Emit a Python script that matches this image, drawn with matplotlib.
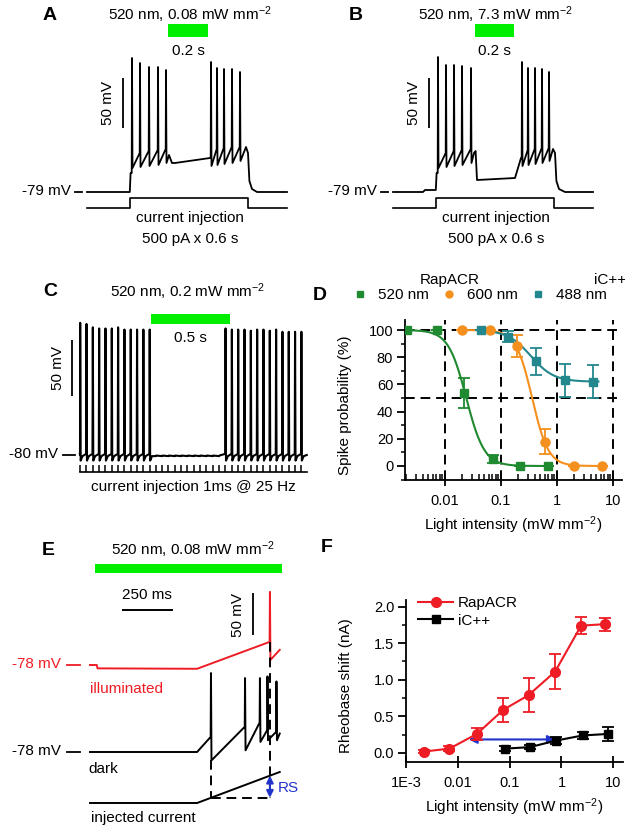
import numpy as np
import matplotlib
matplotlib.use('Agg')
import matplotlib.pyplot as plt
from matplotlib.lines import Line2D
from matplotlib.ticker import MultipleLocator, LogLocator, FixedLocator, FixedFormatter, NullFormatter

plt.rcParams['font.family'] = ['Liberation Sans', 'DejaVu Sans']
plt.rcParams['mathtext.fontset'] = 'custom'
plt.rcParams['mathtext.rm'] = 'Liberation Sans'
plt.rcParams['mathtext.it'] = 'Liberation Sans:italic'
plt.rcParams['font.size'] = 11

W, H = 625, 830

LIGHT = '#00ee00'
GREEN = '#1f8a30'
ORANGE = '#f5901e'
TEAL = '#23888e'
RED = '#ee1c24'
BLUE = '#2233cc'
DASH = (0, (5, 3))

# ---------------- A / B : 500 pA x 0.6 s step, 0.2 s light
STEP_ON, STEP_OFF = 0.215, 0.805
STEP_PA = 500

A_LIGHT = (0.405, 0.605)
A_SUB_T = [0, 0.214, 0.218, 0.41, 0.425, 0.44, 0.615, 0.795, 0.805, 0.812, 0.825, 0.85, 1.0]
A_SUB_V = [-79, -79, -60, -42, -50, -50, -45, -34, -40, -68, -76, -79, -79]
A_SPK_T = [0.225, 0.265, 0.31, 0.355, 0.395, 0.62, 0.65, 0.685, 0.725, 0.765]
A_SPK_V = [55, 50, 46, 46, 43, 51, 45, 44, 44, 41]
A_THR = [-60, -40, -38, -37, -36, -44, -36, -35, -34, -34]
A_AHP = [-55, -54, -53, -52, -50, -53, -52, -51, -50, -48]

B_LIGHT = (0.41, 0.605)
B_SUB_T = [0, 0.15, 0.16, 0.214, 0.218, 0.405, 0.413, 0.42, 0.61, 0.625, 0.64,
           0.80, 0.81, 0.817, 0.83, 0.86, 1.0]
B_SUB_V = [-79, -79, -77, -77, -60, -40, -38, -67, -65, -55, -45,
           -36, -40, -68, -76, -79, -79]
B_SPK_T = [0.225, 0.265, 0.305, 0.345, 0.39, 0.645, 0.675, 0.71, 0.745, 0.78]
B_SPK_V = [56, 48, 48, 47, 45, 51, 45, 45, 44, 41]
B_THR = [-60, -40, -38, -37, -36, -44, -37, -36, -35, -35]
B_AHP = [-55, -54, -53, -52, -50, -53, -52, -51, -50, -48]

# ---------------- C : 1 ms pulses at 25 Hz, 0.5 s light
C_RATE = 25
C_N_STIM = 36
C_LIGHT = (0.45, 0.95)
C_PEAK_PRE = [38, 37, 34, 33, 33, 33, 34, 32, 32, 32, 32, 32]
C_PEAK_POST = [33, 32, 32, 32, 31, 32, 32, 31, 32, 30, 30, 30, 30]
C_REST = -80
C_AHP = -85

# ---------------- D : spike probability vs light intensity
D_520_X = [0.0021, 0.0072, 0.022, 0.072, 0.22, 0.7]
D_520_Y = [100, 100, 54, 5, 0, 0]
D_520_E = [0, 0, 11, 3, 0, 0]
D_600_X = [0.02, 0.063, 0.19, 0.61, 2.0, 6.3]
D_600_Y = [100, 100, 88, 18, 0, 0]
D_600_E = [0, 0, 8, 9, 0, 0]
D_488_X = [0.044, 0.136, 0.42, 1.38, 4.4]
D_488_Y = [100, 95, 77, 63, 62]
D_488_E = [0, 4, 10, 12, 12]
# Hill fits: (IC50, n, bottom, top, x from, x to)
FIT_520 = (0.024, 2.7, 0, 100, 0.0021, 0.7)
FIT_600 = (0.36, 3.0, 0, 100, 0.02, 6.3)
FIT_488 = (0.34, 2.1, 62, 100, 0.044, 5.5)

# ---------------- E : ramp, dark vs illuminated
E_LIGHT = (0.025, 0.94)
E_ILL_T = [0, 0.033, 0.037, 0.525, 0.93]
E_ILL_V = [-78, -78, -82, -82.5, -60]
E_ILL_SPK_T = [0.882]
E_ILL_SPK_V = [9]
E_ILL_THR = [-50.5]
E_ILL_AHP = [-72]
E_DARK_T = [0, 0.525, 0.93]
E_DARK_V = [-78, -78, -56]
E_DARK_SPK_T = [0.593, 0.760, 0.833, 0.870, 0.914]
E_DARK_SPK_V = [16, 10, 10, 12, 6]
E_DARK_THR = [-60, -48, -43, -52, -54]
E_DARK_AHP = [-88, -76, -66, -64, -64]
E_RAMP_T = [0, 0.525, 0.93]
E_RAMP_I = [0, 0, 1]

# ---------------- F : rheobase shift
F_RAP_X = [0.0022, 0.0068, 0.023, 0.075, 0.23, 0.75, 2.4, 7.0]
F_RAP_Y = [0.02, 0.06, 0.26, 0.59, 0.79, 1.11, 1.74, 1.76]
F_RAP_E = [0.02, 0.03, 0.08, 0.16, 0.23, 0.24, 0.12, 0.09]
F_IC_X = [0.082, 0.245, 0.79, 2.6, 7.9]
F_IC_Y = [0.06, 0.08, 0.17, 0.24, 0.26]
F_IC_E = [0.03, 0.03, 0.05, 0.05, 0.1]
F_ARROW_X = (0.016, 0.78)
F_ARROW_Y = 0.185


fig = plt.figure(figsize=(W / 100, H / 100), dpi=100)


def ftext(x, y, s, **kw):
    kw.setdefault('ha', 'center')
    kw.setdefault('va', 'center')
    kw.setdefault('fontsize', 11)
    fig.text(x / W, 1 - y / H, s, **kw)


def px_axes(l, t, r, b):
    return fig.add_axes([l / W, 1 - b / H, (r - l) / W, (b - t) / H])


def px2data(ax, x, y):
    return ax.transData.inverted().transform((x, H - y))


def trace_axes(box, x0, y0, sx, sy, v0):
    # x0,y0: pixel of (t=0, v0); sx px per s, sy px per mV
    l, t, r, b = box
    ax = px_axes(l, t, r, b)
    ax.set_xlim((l - x0) / sx, (r - x0) / sx)
    ax.set_ylim(v0 - (b - y0) / sy, v0 + (y0 - t) / sy)
    ax.axis('off')
    return ax


def spike_trace(sub_t, sub_v, spk_t, spk_v, thr, ahp, rise=0.0015, fall=0.0025):
    pts = list(zip(sub_t, sub_v))
    for ts, vp, vt, va in zip(spk_t, spk_v, thr, ahp):
        pts += [(ts - rise, vt), (ts, vp), (ts + fall, va)]
    pts.sort()
    return np.array(pts).T


def light_bar(ax, light, top_px, bot_px):
    yb = px2data(ax, 0, bot_px)[1]
    yt = px2data(ax, 0, top_px)[1]
    ax.broken_barh([(light[0], light[1] - light[0])], (yb, yt - yb), color=LIGHT, lw=0)


def vbar(ax, x_px, bot_px, length):
    x, y = px2data(ax, x_px, bot_px)
    ax.plot([x, x], [y, y + length], color='k', lw=1.3, solid_capstyle='butt')


def base_tick(ax, x1_px, x2_px, v, color='k'):
    x1 = px2data(ax, x1_px, 0)[0]
    x2 = px2data(ax, x2_px, 0)[0]
    ax.plot([x1, x2], [v, v], color=color, lw=1.3)


# ---------------- panels A and B
def step_panel(dx, letter, title, light, sub_t, sub_v, spk_t, spk_v, thr, ahp):
    ax = trace_axes((dx, 0, dx + 312, 262), 87 + dx, 192, 200, 1.0, -79)
    t, v = spike_trace(sub_t, sub_v, spk_t, spk_v, thr, ahp)
    ax.plot(t, v, color='k', lw=1.3)
    ct = [0, STEP_ON, STEP_ON, STEP_OFF, STEP_OFF, sub_t[-1]]
    ci = np.array([0, 0, STEP_PA, STEP_PA, 0, 0])
    lo = px2data(ax, 0, 208)[1]
    hi = px2data(ax, 0, 198)[1]
    ax.plot(ct, lo + ci * (hi - lo) / STEP_PA, color='k', lw=1.2)
    light_bar(ax, light, 24, 37)
    vbar(ax, 123 + dx, 128, 50)
    base_tick(ax, 75 + dx, 82 + dx, -79)
    ftext(50 + dx, 15, letter, fontsize=14, fontweight='bold')
    ftext(190 + dx, 15, title)
    ftext(188 + dx, 51, '0.2 s')
    ftext(108 + dx, 103, '50 mV', rotation=90)
    ftext(71 + dx, 191, '-79 mV', ha='right')
    ftext(190 + dx, 218, 'current injection')
    ftext(190 + dx, 239, '500 pA x 0.6 s')


step_panel(0, 'A', r'520 nm, 0.08 mW mm$^{-2}$', A_LIGHT,
           A_SUB_T, A_SUB_V, A_SPK_T, A_SPK_V, A_THR, A_AHP)
step_panel(306, 'B', r'520 nm, 7.3 mW mm$^{-2}$', B_LIGHT,
           B_SUB_T, B_SUB_V, B_SPK_T, B_SPK_V, B_THR, B_AHP)

# ---------------- panel C
axC = trace_axes((0, 300, 320, 500), 80, 455, 158, 1.12, C_REST)
stim = np.arange(C_N_STIM) / C_RATE
n_pre, n_post = len(C_PEAK_PRE), len(C_PEAK_POST)
spk_t = list(stim[:n_pre]) + list(stim[C_N_STIM - n_post:])
spk_v = C_PEAK_PRE + C_PEAK_POST
pts = [(0, C_REST), (stim[-1] + 0.035, C_REST)]
for ts, vp in zip(spk_t, spk_v):
    pts += [(ts - 0.001, C_REST + 1), (ts + 0.0012, vp), (ts + 0.004, C_AHP),
            (ts + 0.016, C_REST - 1)]
for ts in stim[n_pre:C_N_STIM - n_post]:
    pts += [(ts, C_REST - 1), (ts + 0.002, C_REST - 0.5)]
pts.sort()
tc, vc = np.array(pts).T
axC.plot(tc, vc, color='k', lw=1.5)
lo = px2data(axC, 0, 472)[1]
hi = px2data(axC, 0, 465)[1]
axC.plot([0, stim[-1] + 0.035], [lo, lo], color='k', lw=1.2)
axC.vlines(stim, lo, hi, color='k', lw=1.1)
light_bar(axC, C_LIGHT, 314, 324)
vbar(axC, 72, 396, 50)
base_tick(axC, 63, 75, C_REST)
ftext(50, 292, 'C', fontsize=14, fontweight='bold')
ftext(188, 292, r'520 nm, 0.2 mW mm$^{-2}$')
ftext(190, 338, '0.5 s')
ftext(58, 368, '50 mV', rotation=90)
ftext(58, 454, '-80 mV', ha='right')
ftext(193, 487, 'current injection 1ms @ 25 Hz')

# ---------------- panel D
axD = px_axes(405, 320, 622, 480)
axD.set_xscale('log')
axD.set_xlim(0.00193, 14.5)
axD.set_ylim(-10.3, 107.4)
for xv in [0.01, 0.1, 1, 10]:
    axD.axvline(xv, color='k', ls=DASH, lw=1.4, zorder=1)
for yv in [50, 100]:
    axD.axhline(yv, color='k', ls=DASH, lw=1.4, zorder=1)
for fit, col in [(FIT_520, GREEN), (FIT_600, ORANGE), (FIT_488, TEAL)]:
    ic, n, bot, top, x0, x1 = fit
    xs = np.logspace(np.log10(x0), np.log10(x1), 200)
    axD.plot(xs, bot + (top - bot) / (1 + (xs / ic) ** n), color=col, lw=1.5, zorder=2)
for xs, ys, es, col, mk, ms in [(D_520_X, D_520_Y, D_520_E, GREEN, 's', 5.5),
                                (D_600_X, D_600_Y, D_600_E, ORANGE, 'o', 6.5),
                                (D_488_X, D_488_Y, D_488_E, TEAL, 's', 5.5)]:
    axD.errorbar(xs, ys, yerr=es, fmt=mk, color=col, ms=ms, capsize=4,
                 elinewidth=1.3, capthick=1.3, zorder=3)

handles = [Line2D([], [], ls='none', marker='s', color=GREEN, ms=4.5),
           Line2D([], [], ls='none', marker='o', color=ORANGE, ms=5),
           Line2D([], [], ls='none', marker='s', color=TEAL, ms=4.5)]
axD.legend(handles, ['520 nm', '600 nm', '488 nm'], ncol=3, loc='center left',
           bbox_to_anchor=(352 / W, 1 - 295 / H), bbox_transform=fig.transFigure,
           frameon=False, handlelength=1.0, handletextpad=0.7, columnspacing=0.8,
           fontsize=11, borderpad=0, borderaxespad=0)
ftext(320, 295, 'D', fontsize=14, fontweight='bold')
ftext(450, 280, 'RapACR')
ftext(610, 280, 'iC++')


def style_log_axes(ax, ticks, labels):
    for s in ['top', 'right']:
        ax.spines[s].set_visible(False)
    for s in ['left', 'bottom']:
        ax.spines[s].set_linewidth(1.3)
    ax.xaxis.set_major_locator(FixedLocator(ticks))
    ax.xaxis.set_major_formatter(FixedFormatter(labels))
    ax.xaxis.set_minor_locator(LogLocator(base=10, subs=np.arange(2, 10)))
    ax.xaxis.set_minor_formatter(NullFormatter())
    ax.tick_params(axis='x', which='major', direction='inout', length=8, width=1.3,
                   pad=6, labelsize=10.5)
    ax.tick_params(axis='x', which='minor', direction='in', length=4, width=1.1)
    ax.tick_params(axis='y', which='major', direction='out', length=5.5, width=1.3,
                   pad=3, labelsize=10.5)
    ax.tick_params(axis='y', which='minor', direction='out', length=3, width=1.1)
    ax.set_xlabel(r'Light intensity (mW mm$^{-2}$)', fontsize=11)


style_log_axes(axD, [0.01, 0.1, 1, 10], ['0.01', '0.1', '1', '10'])
axD.yaxis.set_major_locator(MultipleLocator(20))
axD.yaxis.set_minor_locator(MultipleLocator(10))
axD.set_ylabel('Spike probability (%)', fontsize=11)
axD.yaxis.set_label_coords(-0.244, 0.47)
axD.xaxis.set_label_coords(0.5, -0.215)

# ---------------- panel E
axE = trace_axes((0, 555, 320, 830), 90, 752, 204, 0.84, -78)
red_off = px2data(axE, 0, 665)[1] - px2data(axE, 0, 752)[1]
t, v = spike_trace(E_ILL_T, E_ILL_V, E_ILL_SPK_T, E_ILL_SPK_V, E_ILL_THR, E_ILL_AHP)
axE.plot(t, v + red_off, color=RED, lw=1.4)
t, v = spike_trace(E_DARK_T, E_DARK_V, E_DARK_SPK_T, E_DARK_SPK_V, E_DARK_THR, E_DARK_AHP)
axE.plot(t, v, color='k', lw=1.4)
lo = px2data(axE, 0, 803)[1]
hi = px2data(axE, 0, 772)[1]


def ramp_v(tt):
    return lo + np.interp(tt, E_RAMP_T, E_RAMP_I) * (hi - lo)


axE.plot(E_RAMP_T, ramp_v(np.array(E_RAMP_T)), color='k', lw=1.4)
t_d = E_DARK_SPK_T[0]
t_i = E_ILL_SPK_T[0]
axE.plot([t_d, t_d], [min(E_DARK_AHP), ramp_v(t_d)], color='k', ls=DASH, lw=1.4)
axE.plot([t_i, t_i], [E_ILL_THR[0] + red_off, ramp_v(t_d)], color='k', ls=DASH, lw=1.4)
axE.plot([t_d, t_i], [ramp_v(t_d), ramp_v(t_d)], color='k', ls=DASH, lw=1.4)
axE.annotate('', xy=(t_i, ramp_v(t_i)), xytext=(t_i, ramp_v(t_d)),
             arrowprops=dict(arrowstyle='<|-|>', color=BLUE, lw=1.5,
                             mutation_scale=10, shrinkA=0, shrinkB=0))
light_bar(axE, E_LIGHT, 564, 573)
vbar(axE, 253, 635, 50)
x1, y1 = px2data(axE, 122, 610)
axE.plot([x1, x1 + 0.25], [y1, y1], color='k', lw=1.4, solid_capstyle='butt')
base_tick(axE, 67, 80, -78 + red_off, RED)
base_tick(axE, 67, 80, -78)
ftext(48, 550, 'E', fontsize=14, fontweight='bold')
ftext(193, 550, r'520 nm, 0.08 mW mm$^{-2}$')
ftext(147, 595, '250 ms')
ftext(238, 615, '50 mV', rotation=90)
ftext(61, 664, '-78 mV', ha='right', color=RED)
ftext(90, 689, 'illuminated', ha='left', color=RED)
ftext(61, 751, '-78 mV', ha='right')
ftext(88, 769, 'dark', ha='left')
ftext(278, 788, 'RS', ha='left', color=BLUE)
ftext(91, 818, 'injected current', ha='left')

# ---------------- panel F
axF = px_axes(406, 600, 623, 762)
axF.set_xscale('log')
axF.set_xlim(0.00098, 15.5)
axF.set_ylim(-0.123, 2.09)
axF.annotate('', xy=(F_ARROW_X[0], F_ARROW_Y), xytext=(F_ARROW_X[1], F_ARROW_Y),
             arrowprops=dict(arrowstyle='<|-|>', color=BLUE, lw=1.5,
                             mutation_scale=12, shrinkA=0, shrinkB=0), zorder=2)
axF.errorbar(F_RAP_X, F_RAP_Y, yerr=F_RAP_E, fmt='-o', color=RED, ms=7, lw=1.5,
             capsize=4, elinewidth=1.3, capthick=1.3, zorder=3)
axF.errorbar(F_IC_X, F_IC_Y, yerr=F_IC_E, fmt='-s', color='k', ms=5.5, lw=1.5,
             capsize=4, elinewidth=1.3, capthick=1.3, zorder=3)
style_log_axes(axF, [0.001, 0.01, 0.1, 1, 10], ['1E-3', '0.01', '0.1', '1', '10'])
axF.yaxis.set_major_locator(MultipleLocator(0.5))
axF.yaxis.set_minor_locator(MultipleLocator(0.25))
axF.yaxis.set_major_formatter(matplotlib.ticker.FormatStrFormatter('%.1f'))
axF.set_ylabel('Rheobase shift (nA)', fontsize=11)
axF.yaxis.set_label_coords(-0.244, 0.47)
axF.xaxis.set_label_coords(0.5, -0.21)
fh = [Line2D([], [], color=RED, marker='o', ms=7, lw=1.5),
      Line2D([], [], color='k', marker='s', ms=5.5, lw=1.5)]
axF.legend(fh, ['RapACR', 'iC++'], loc='upper left', bbox_to_anchor=(418 / W, 1 - 596 / H),
           bbox_transform=fig.transFigure, frameon=False, handlelength=2.3,
           handletextpad=0.3, labelspacing=0.25, fontsize=11, borderpad=0, borderaxespad=0)
ftext(327, 547, 'F', fontsize=14, fontweight='bold')

fig.savefig('out.png', dpi=100)
